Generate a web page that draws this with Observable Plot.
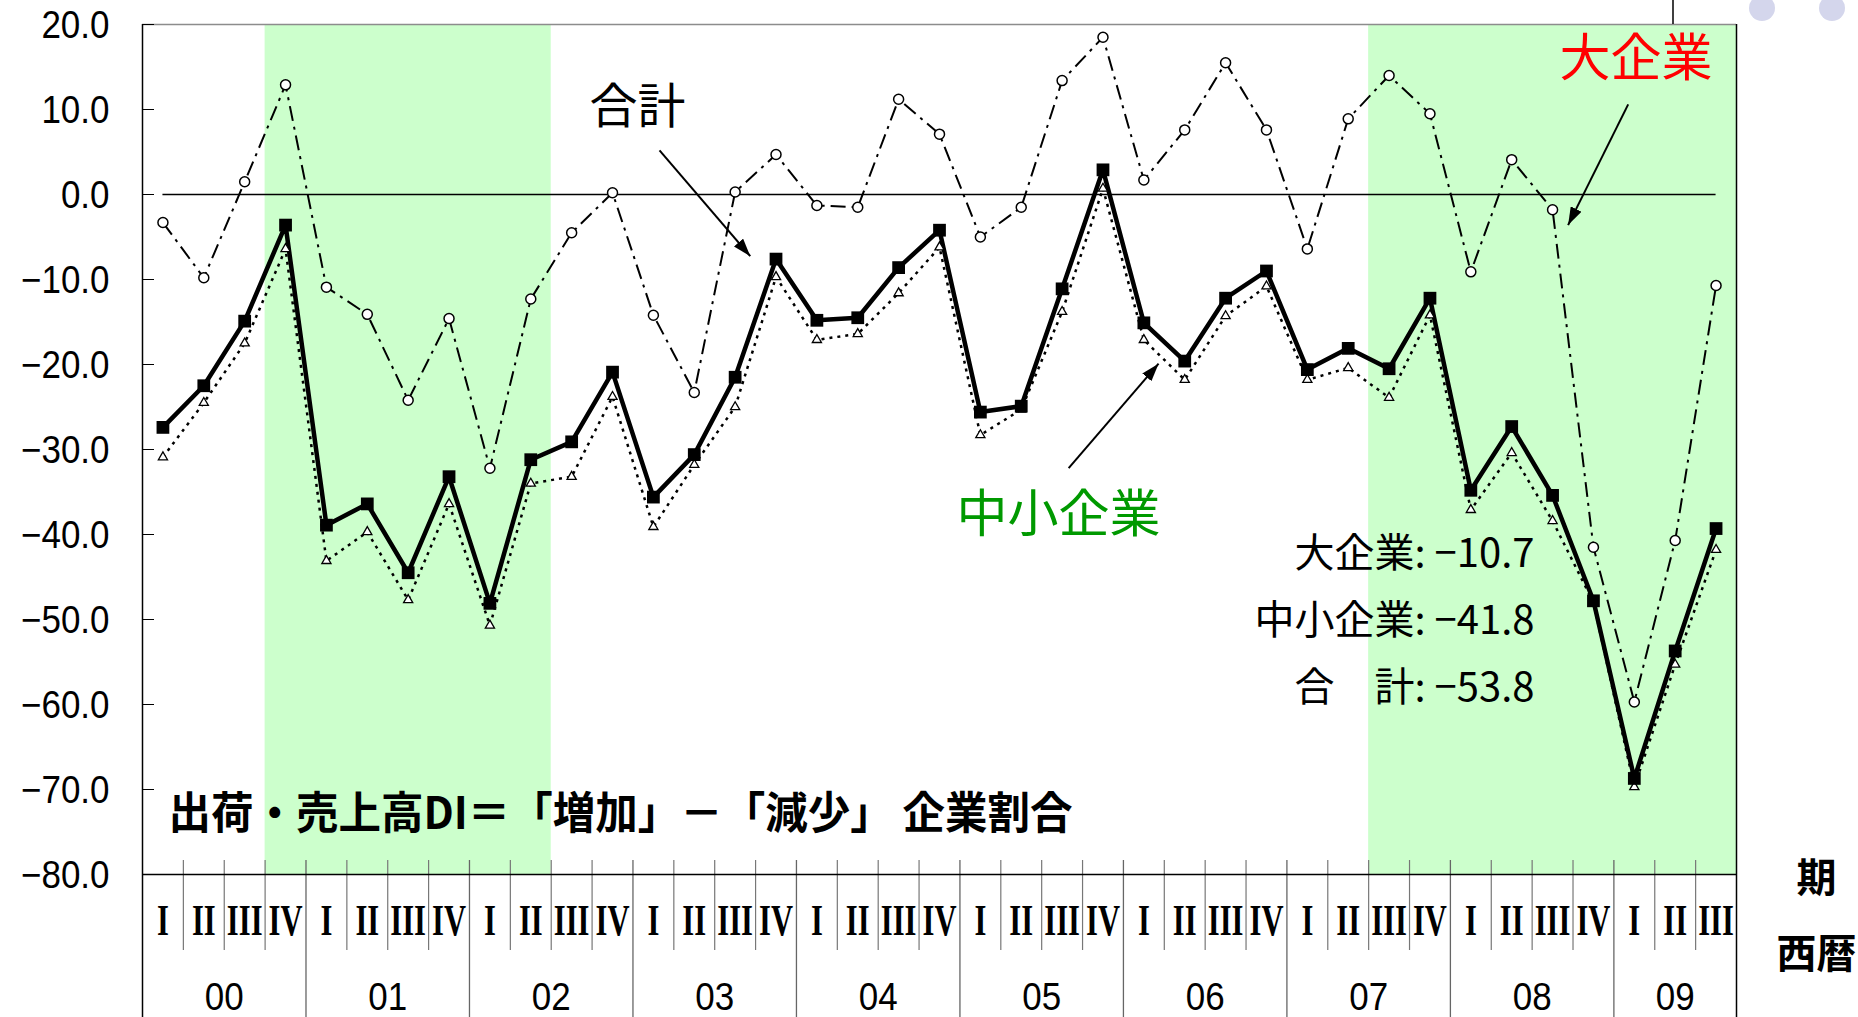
<!DOCTYPE html>
<html><head><meta charset="utf-8">
<script src="https://cdn.jsdelivr.net/npm/d3@7"></script>
<script src="https://cdn.jsdelivr.net/npm/@observablehq/plot@0.6"></script>
<style>html,body{margin:0;padding:0;background:#fff;overflow:hidden}</style>
</head><body><div id="chart"></div>
<script>
// ---- data ----
const years = ["00","01","02","03","04","05","06","07","08","09"];
const quarterLabels = ["I","II","III","IV"];
// 合計 (total)
const total = [-27.4,-22.5,-14.9,-3.6, -38.9,-36.4,-44.5,-33.2, -48.1,-31.2,-29.1,-20.9,
  -35.6,-30.6,-21.5,-7.6, -14.8,-14.5,-8.6,-4.2, -25.6,-24.9,-11.1,2.9,
  -15.1,-19.6,-12.2,-9.0, -20.6,-18.1,-20.5,-12.2, -34.8,-27.3,-35.4,-47.8, -68.7,-53.7,-39.3];
// 大企業 (large firms)
const large = [-3.3,-9.8,1.5,12.9, -10.9,-14.1,-24.2,-14.6, -32.2,-12.3,-4.5,0.2,
  -14.2,-23.3,0.3,4.7, -1.3,-1.5,11.2,7.1, -5.0,-1.5,13.4,18.5,
  1.7,7.6,15.5,7.6, -6.4,8.9,14.0,9.5, -9.1,4.1,-1.8,-41.5, -59.7,-40.7,-10.7];
// 中小企業 (SMEs)
const sme = [-30.9,-24.5,-17.5,-6.4, -43.1,-39.7,-47.7,-36.4, -50.7,-34.0,-33.2,-23.8,
  -39.1,-31.8,-25.0,-9.7, -17.1,-16.4,-11.6,-6.2, -28.3,-25.3,-13.8,0.7,
  -17.1,-21.8,-14.3,-10.8, -21.8,-20.4,-23.9,-14.2, -37.1,-30.4,-38.4,-48.0, -69.7,-55.3,-41.8];
const yTicks = [20,10,0,-10,-20,-30,-40,-50,-60,-70,-80];
const recessions = [{from:"00-IV", to:"02-II"}, {from:"07-III", to:"09-III"}];
const seriesLabels = {total:"合計", large:"大企業", sme:"中小企業"};
const titleText = "出荷・売上高DI＝「増加」－「減少」 企業割合";
const latestText = "大企業: −10.7\n中小企業: −41.8\n合　計: −53.8";
const axisText = "期\n西暦";
// arrows: from label toward series (in data units: period index, DI value)
const arrows = [
  {x1:12.15, y1:5.2,  x2:14.37, y2:-7.26},
  {x1:35.85, y1:10.6, x2:34.38, y2:-3.6},
  {x1:22.16, y1:-32.2, x2:24.36, y2:-19.9}
];

// ---- derived tables ----
const periods = total.map((v,i)=>({
  i, year: years[Math.floor(i/4)], q: quarterLabels[i%4],
  key: years[Math.floor(i/4)] + "-" + quarterLabels[i%4],
  total: v, large: large[i], sme: sme[i]
}));
const n = periods.length;
const idx = k => periods.findIndex(p => p.key === k);
const shades = recessions.map(r => ({x1: idx(r.from) - 0.5, x2: idx(r.to) + 0.5}));
const yearSpans = years.map(y => {
  const ps = periods.filter(p => p.year === y);
  return {year: y, x: (ps[0].i + ps[ps.length-1].i) / 2};
});
const quarterBounds = periods.slice(1).filter(p => p.q !== quarterLabels[0]).map(p => p.i - 0.5);
const yearBounds = periods.slice(1).filter(p => p.q === quarterLabels[0]).map(p => p.i - 0.5);
const fmt = v => (v < 0 ? "−" : "") + Math.abs(v).toFixed(1);

// ---- layout ----
const W = 1858, H = 1017, ML = 142, MR = 122, MT = 24, MB = 143;
const plotW = W - ML - MR;
const JP = "'Noto Sans CJK JP', 'Noto Sans', sans-serif";
const NUM = "'Liberation Sans', Arimo, Arial, sans-serif";

const chart = Plot.plot({
  width: W, height: H,
  marginLeft: ML, marginRight: MR, marginTop: MT, marginBottom: MB,
  x: {type: "linear", domain: [-0.5, n - 0.5], axis: null},
  y: {domain: [-80, 20], axis: null},
  style: {fontFamily: JP, background: "#fff", overflow: "visible"},
  marks: [
    Plot.rect(shades, {x1: "x1", x2: "x2", y1: -80, y2: 20, fill: "#CCFFCC"}),
    Plot.ruleY([20], {stroke: "#8c8c8c", strokeWidth: 1.5}),
    // inward y ticks
    Plot.ruleY(yTicks, {stroke: "#000", strokeWidth: 1, insetRight: plotW - 12}),
    // zero line between first and last period
    Plot.ruleY([0], {x1: 0, x2: n - 1, stroke: "#000", strokeWidth: 1.5}),
    // quarter / year separators below axis
    Plot.ruleX(quarterBounds, {stroke: "#777", strokeWidth: 1.2, insetTop: 836, insetBottom: -76}),
    Plot.ruleX(yearBounds, {stroke: "#666", strokeWidth: 1.3, insetTop: 836, insetBottom: -MB}),
    Plot.ruleX([-0.5, n - 0.5], {stroke: "#000", strokeWidth: 1.5, insetBottom: -MB}),
    Plot.ruleY([-80], {stroke: "#000", strokeWidth: 1.5}),
    // y tick labels
    Plot.text(yTicks, {y: d => d, text: fmt, frameAnchor: "left", dx: -33, dy: 1, textAnchor: "end",
      fontSize: 38, fontFamily: NUM, fill: "#000", className: "ylab"}),
    // quarter labels (serif roman numerals)
    Plot.text(periods, {x: "i", text: "q", frameAnchor: "bottom", dy: 46, lineAnchor: "middle",
      fontSize: 34, fontWeight: "bold", fontFamily: "'Liberation Serif', 'DejaVu Serif', serif", fill: "#000", className: "qlab"}),
    // year labels
    Plot.text(yearSpans, {x: "x", text: "year", frameAnchor: "bottom", dy: 123, lineAnchor: "middle",
      fontSize: 38, fontFamily: NUM, fill: "#000", className: "ylab2"}),
    // series lines
    Plot.line(periods, {x: "i", y: "sme", stroke: "#000", strokeWidth: 2.5, strokeDasharray: "3,5", strokeLinejoin: "miter", strokeLinecap: "butt"}),
    Plot.line(periods, {x: "i", y: "large", stroke: "#000", strokeWidth: 2, strokeDasharray: "15,6,3,6", strokeLinejoin: "miter", strokeLinecap: "butt"}),
    Plot.line(periods, {x: "i", y: "total", stroke: "#000", strokeWidth: 4.5, strokeLinejoin: "miter"}),
    Plot.dot(periods, {x: "i", y: "sme", symbol: "triangle", r: 3.4, fill: "#fff", stroke: "#000", strokeWidth: 1.3}),
    Plot.dot(periods, {x: "i", y: "large", symbol: "circle", r: 5, fill: "#fff", stroke: "#000", strokeWidth: 1.5}),
    Plot.dot(periods, {x: "i", y: "total", symbol: "square", r: 7.2, fill: "#000", stroke: "none"}),
    // arrows
    Plot.link(arrows, {x1: "x1", y1: "y1", x2: "x2", y2: "y2", stroke: "#000", strokeWidth: 2, className: "annarrow"}),
    // annotations
    Plot.text([seriesLabels.total], {frameAnchor: "top-left", dx: 447, dy: 83, textAnchor: "start", lineAnchor: "middle", fontSize: 48, fill: "#000"}),
    Plot.text([seriesLabels.large], {frameAnchor: "top-left", dx: 1417, dy: 35, textAnchor: "start", lineAnchor: "middle", fontSize: 51, fill: "#ff0000"}),
    Plot.text([seriesLabels.sme], {frameAnchor: "top-left", dx: 814, dy: 491, textAnchor: "start", lineAnchor: "middle", fontSize: 51, fill: "#009900"}),
    Plot.text([latestText], {frameAnchor: "top-left", dx: 1392, dy: 588, textAnchor: "end", lineAnchor: "middle", lineHeight: 1.675, fontSize: 40, fill: "#000"}),
    Plot.text([titleText], {frameAnchor: "bottom-left", dx: 26, dy: -60, textAnchor: "start", lineAnchor: "middle", fontSize: 44, fontWeight: "bold", fill: "#000", className: "title"}),
    Plot.text([axisText], {frameAnchor: "bottom-right", dx: 80, dy: 31, textAnchor: "middle", lineAnchor: "middle", lineHeight: 1.9, fontSize: 40, fontWeight: "bold", fill: "#000"})
  ]
});
document.getElementById("chart").appendChild(chart);

// ---- post-processing (text widths, arrowheads, slide decoration) ----
const svg = d3.select(chart);
function squeeze(sel, k) {
  sel.each(function() {
    const L = this.getComputedTextLength();
    this.setAttribute("textLength", (L * k).toFixed(1));
    this.setAttribute("lengthAdjust", "spacingAndGlyphs");
  });
}
squeeze(svg.selectAll(".ylab text"), 0.92);
squeeze(svg.selectAll(".ylab2 text"), 0.92);
// stretch roman numerals vertically (tall, narrow glyphs as in the original)
svg.selectAll(".qlab text").each(function() {
  const t = this.getAttribute("transform") || "";
  this.setAttribute("transform", t + " scale(0.9,1.3)");
});
svg.selectAll(".title text").each(function() {
  this.setAttribute("textLength", 904);
  this.setAttribute("lengthAdjust", "spacingAndGlyphs");
});
const defs = svg.append("defs");
defs.append("marker").attr("id", "ahead").attr("viewBox", "0 0 18 12")
  .attr("refX", 18).attr("refY", 6).attr("markerWidth", 18).attr("markerHeight", 12)
  .attr("markerUnits", "userSpaceOnUse").attr("orient", "auto")
  .append("path").attr("d", "M0,0L18,6L0,12Z").attr("fill", "#000");
svg.selectAll(".annarrow path").attr("marker-end", "url(#ahead)");
// slide decoration at top right
const deco = svg.append("g");
deco.append("line").attr("x1", 1673).attr("x2", 1673).attr("y1", 0).attr("y2", MT).attr("stroke", "#000").attr("stroke-width", 1.5);
deco.append("circle").attr("cx", 1762).attr("cy", 8).attr("r", 13).attr("fill", "#d4d6ec");
deco.append("circle").attr("cx", 1832).attr("cy", 8).attr("r", 13).attr("fill", "#d4d6ec");
</script>
</body></html>
